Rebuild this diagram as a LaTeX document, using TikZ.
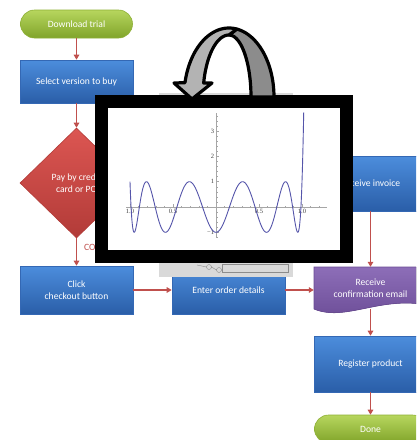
\documentclass[tikz,border=0pt]{standalone}
\usepackage{fontspec}
\setmainfont{Carlito}
\newfontfamily\plotfont{Liberation Serif}
\usetikzlibrary{arrows.meta,shapes.geometric}

\definecolor{boxtop}{HTML}{4C8DDC}
\definecolor{boxbot}{HTML}{2A5EA8}
\definecolor{boxedge}{HTML}{3468B4}
\definecolor{pilltop}{HTML}{B7D65E}
\definecolor{pillbot}{HTML}{80A42A}
\definecolor{pilledge}{HTML}{8EB035}
\definecolor{dectop}{HTML}{DC5652}
\definecolor{decbot}{HTML}{B23B38}
\definecolor{doctop}{HTML}{8D6EB8}
\definecolor{docbot}{HTML}{6A4B95}
\definecolor{flowred}{HTML}{C0504D}
\definecolor{shotgray}{HTML}{D9D9D9}
\definecolor{curveblue}{HTML}{5555AA}
\definecolor{axisgray}{HTML}{A6A6A6}
\definecolor{arclight}{HTML}{B3B3B3}
\definecolor{arcdark}{HTML}{8C8C8C}

\begin{document}
\begin{tikzpicture}[x=1pt,y=-1pt,
  declare function={tcheb(\t)=((((512*\t*\t-1280)*\t*\t+1120)*\t*\t-400)*\t*\t+50)*\t*\t-1;},
  boxtext/.style={font=\fontsize{9.6}{12}\selectfont, text=white, align=center, inner sep=0pt},
  procbox/.style={boxtext, rectangle, minimum width=113pt, top color=boxtop, bottom color=boxbot, draw=boxedge, line width=0.6pt},
  pillbox/.style={boxtext, rectangle, rounded corners=14pt, minimum width=112pt, minimum height=28pt, top color=pilltop, bottom color=pillbot, draw=pilledge, line width=0.6pt},
  decision/.style={boxtext, diamond, aspect=1, minimum width=113pt, minimum height=110pt, top color=dectop, bottom color=decbot, draw=decbot, line width=0.6pt},
  flowarrow/.style={draw=flowred, line width=1.6pt, -{Triangle[length=5pt,width=5.5pt]}},
  axisline/.style={draw=axisgray, line width=0.5pt},
  ticklabel/.style={font=\plotfont\fontsize{6.5}{7}\selectfont, text=black!75, inner sep=0.8pt},
  circuit/.style={draw=black!45, line width=0.4pt},
  arcband/.style={draw=black, line width=3.2pt, line join=round}]

\useasboundingbox (0,0) rectangle (416,440);
\clip (0,0) rectangle (416,440);
\fill[white] (0,0) rectangle (416,440);

% ---------- flowchart ----------
\node[pillbox] (dl) at (76.5,24) {Download trial};
\node[procbox, minimum height=43pt] (sel) at (76.5,81.5) {Select version to buy};
\node[decision] (pay) at (76.5,183) {Pay by credit\\card or PO};
\node[font=\fontsize{9.6}{12}\selectfont, text=flowred, anchor=west, inner sep=0pt] (co) at (84,247) {CO};
\node[procbox, minimum height=48pt] (click) at (76.5,290) {Click\\checkout button};
\node[procbox, minimum height=48pt] (enter) at (228.5,290) {Enter order details};
\node[procbox, minimum height=55pt] (inv) at (370.5,183.5) {Receive invoice};

% document shape with a wavy lower edge
\filldraw[top color=doctop, bottom color=docbot, draw=docbot, line width=0.6pt]
  (314,267) -- (427,267) -- (427,305) .. controls (380,296) and (345,322) .. (314,309) -- cycle;
\node[boxtext, minimum width=113pt, minimum height=42pt] (conf) at (370.5,288) {Receive\\confirmation email};

\node[procbox, minimum height=56pt] (reg) at (370.5,364) {Register product};
\node[pillbox] (done) at (370.5,429) {Done};

\draw[flowarrow] (dl.south) -- (sel.north);
\draw[flowarrow] (sel.south) -- (pay.north);
\draw[flowarrow] (pay.south) -- (click.north);
\draw[flowarrow] (click.east) -- (enter.west);
\draw[flowarrow] (enter.east) -- (enter.east -| conf.west);
\draw[flowarrow] (inv.south) -- (conf.north);
\draw[flowarrow] (conf.south) -- (reg.north);
\draw[flowarrow] (reg.south) -- (done.north);

% ---------- screenshot lying behind the frame ----------
\fill[shotgray] (159,93) rectangle (293,277);
\draw[circuit] (222,264.5) rectangle (288,272);
\draw[circuit] (209,267) circle (2.5) (219,270) circle (2.5)
  (197,265) -- (206.5,267) (211.5,267) -- (216.5,270) (221.5,270) -- (222,270);

% ---------- picture frame ----------
\fill[black] (95,95) rectangle (353,263);
\fill[white] (108,108) rectangle (340,250);

% ---------- plot of the curve ----------
\begin{scope}
\clip (108,108) rectangle (340,250);
\draw[axisline] (126,207) -- (327,207);
\draw[axisline] (216,113) -- (216,237);
\foreach \k in {-10,...,12} \draw[axisline] ({216+8.6*\k},207) -- ({216+8.6*\k},205.5);
\foreach \k in {-2,-1,1,2} \draw[axisline] ({216+43*\k},207) -- ({216+43*\k},204);
\foreach \k in {-6,...,18} \draw[axisline] (216,{207-5.06*\k}) -- (217.5,{207-5.06*\k});
\foreach \k in {-1,1,2,3} \draw[axisline] (216,{207-25.3*\k}) -- (219,{207-25.3*\k});
\node[ticklabel, anchor=north] (xa) at (130,208) {1.0};
\node[ticklabel, anchor=north] (xb) at (173,208) {0.5};
\node[ticklabel, anchor=north] (xc) at (259,208) {0.5};
\node[ticklabel, anchor=north] (xd) at (302,208) {1.0};
\node[ticklabel, anchor=east] (ya) at (215,131.1) {3};
\node[ticklabel, anchor=east] (yb) at (215,156.4) {2};
\node[ticklabel, anchor=east] (yc) at (215,181.7) {1};
\node[ticklabel, anchor=east] (yd) at (215,232.3) {−1};
\draw[curveblue, line width=0.9pt, line join=round]
  plot[domain=-1:1.02, samples=600] ({216+86*\x},{207-25.3*tcheb(\x)});
\end{scope}

% ---------- curved arrow over the frame ----------
\filldraw[arcband, fill=arcdark]
  plot[domain=0:90, samples=30] ({229+22*cos(\x)},{97-62*sin(\x)})
  -- plot[domain=80:0, samples=30] ({229+45*cos(\x)},{97-69*sin(\x)}) -- cycle;
\filldraw[arcband, fill=arclight]
  plot[domain=80:168, samples=40] ({229+45*cos(\x)},{97-69*sin(\x)})
  -- (174,83) -- (192,99) -- (212,83)
  -- plot[domain=167:90, samples=30] ({229+26*cos(\x)},{97-62*sin(\x)}) -- cycle;

\end{tikzpicture}
\end{document}
